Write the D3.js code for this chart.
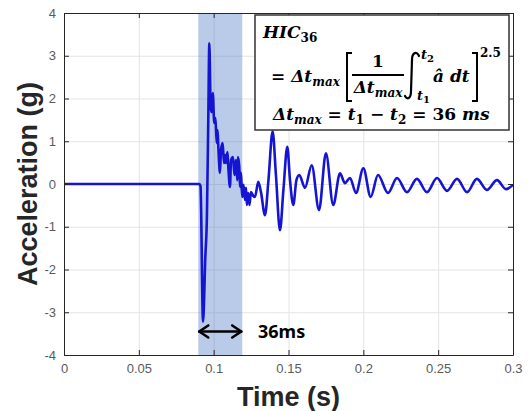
<!DOCTYPE html>
<html>
<head>
<meta charset="utf-8">
<script src="https://cdn.jsdelivr.net/npm/d3@7"></script>
<style>
  body { margin: 0; background: #fff; }
  svg { display: block; }
</style>
</head>
<body>
<div id="chart"></div>
<script>
var W = 529, H = 411;
var margin = { left: 64, right: 16, top: 13, bottom: 56 };

// axis ticks
var xTicks = [0, 0.05, 0.1, 0.15, 0.2, 0.25, 0.3];
var xTickLabels = ["0", "0.05", "0.1", "0.15", "0.2", "0.25", "0.3"];
var yTicks = [-4, -3, -2, -1, 0, 1, 2, 3, 4];
var yTickLabels = ["-4", "-3", "-2", "-1", "0", "1", "2", "3", "4"];

// acceleration trace
var timeS = [0, 0.03, 0.06, 0.0905,
  0.0912, 0.0929, 0.0944, 0.0955, 0.0964, 0.0971, 0.0980, 0.0986, 0.0994, 0.1004,
  0.1012, 0.1020, 0.1026, 0.1032, 0.1042, 0.1049, 0.1060, 0.1069, 0.1076, 0.1082,
  0.1092, 0.1099, 0.1109, 0.1116, 0.1129, 0.1139, 0.1149, 0.1158, 0.1162, 0.1171,
  0.1176, 0.1182, 0.1187, 0.1192, 0.1199, 0.1209, 0.1216, 0.1222, 0.1231, 0.1239,
  0.1249, 0.1265, 0.1276, 0.1298, 0.1316, 0.1343, 0.1366, 0.1394, 0.1416, 0.1443,
  0.1466, 0.1492, 0.1510, 0.1532, 0.1553, 0.1572, 0.1610, 0.1655, 0.1704, 0.1750,
  0.1799, 0.1844, 0.1877, 0.1911, 0.1951, 0.2000, 0.2049, 0.2098, 0.2165, 0.2225,
  0.2292, 0.2358, 0.2425, 0.2492, 0.2559, 0.2626, 0.2693, 0.2759, 0.2826, 0.2893,
  0.2953, 0.3000];
var accelG = [0, 0, 0, 0,
  -0.05, -3.22, -1.73, -0.73, 1.50, 3.29, 1.81, 1.68, 2.13, 1.43,
  1.54, 0.96, 1.26, 0.80, 0.26, 0.80, 0.96, 0.49, 0.68, 0.49,
  0.75, 0.33, -0.07, 0.56, 0.63, 0.21, 0.56, 0.09, 0.63, 0.40,
  -0.07, 0.26, -0.07, -0.30, -0.02, -0.37, -0.09, -0.49, -0.21, -0.49,
  -0.19, -0.28, -0.30, 0.05, -0.19, -0.73, 0.09, 1.23, 0.21, -1.08,
  -0.14, 0.87, 0.09, -0.49, 0.09, 0.21, -0.09, 0.44, -0.61, 0.72,
  -0.49, 0.25, 0.02, 0.14, -0.21, 0.37, -0.30, 0.21, -0.21, 0.14,
  -0.19, 0.12, -0.19, 0.14, -0.16, 0.12, -0.19, 0.12, -0.14, 0.09,
  -0.12, -0.02];

// HIC window (s)
var hicWindow = [0.0897, 0.1191];
var windowLabel = "36ms";

var svg = d3.select("#chart").append("svg")
  .attr("width", W).attr("height", H);

var pw = W - margin.left - margin.right;
var ph = H - margin.top - margin.bottom;

var x = d3.scaleLinear().domain([0, 0.3]).range([margin.left, margin.left + pw]);
var y = d3.scaleLinear().domain([-4, 4]).range([margin.top + ph, margin.top]);

// grid
svg.append("g")
  .attr("transform", "translate(0," + (margin.top + ph) + ")")
  .call(d3.axisBottom(x).tickValues(xTicks).tickSize(-ph).tickFormat(""))
  .call(function(g) { g.select(".domain").remove(); g.selectAll("line").attr("stroke", "#e3e3e3"); });
svg.append("g")
  .attr("transform", "translate(" + margin.left + ",0)")
  .call(d3.axisLeft(y).tickValues(yTicks).tickSize(-pw).tickFormat(""))
  .call(function(g) { g.select(".domain").remove(); g.selectAll("line").attr("stroke", "#e3e3e3"); });

// shaded window
svg.append("rect")
  .attr("x", x(hicWindow[0])).attr("y", margin.top)
  .attr("width", x(hicWindow[1]) - x(hicWindow[0])).attr("height", ph)
  .attr("fill", "#4472c4").attr("fill-opacity", 0.37);

svg.append("clipPath").attr("id", "clip")
  .append("rect").attr("x", margin.left).attr("y", margin.top).attr("width", pw).attr("height", ph);

var line = d3.line()
  .x(function(d, i) { return x(timeS[i]); })
  .y(function(d) { return y(d); })
  .curve(d3.curveMonotoneX);

svg.append("path")
  .datum(accelG)
  .attr("clip-path", "url(#clip)")
  .attr("d", line)
  .attr("fill", "none")
  .attr("stroke", "#1414d2")
  .attr("stroke-width", 2.6)
  .attr("stroke-linejoin", "round");

// axes (MATLAB box style, ticks inward)
var axColor = "#262626";
function styleAxis(g) {
  g.select(".domain").attr("stroke", axColor);
  g.selectAll(".tick line").attr("stroke", axColor);
  g.selectAll("text").attr("fill", "#5a5a5a")
    .style("font-family", "'Liberation Sans', Arial, sans-serif").style("font-size", "13px");
}
svg.append("g")
  .attr("transform", "translate(0," + (margin.top + ph) + ")")
  .call(d3.axisBottom(x).tickValues(xTicks).tickFormat(function(d, i) { return xTickLabels[i]; })
    .tickSizeInner(-5).tickSizeOuter(0).tickPadding(9))
  .call(styleAxis);
svg.append("g")
  .attr("transform", "translate(0," + margin.top + ")")
  .call(d3.axisTop(x).tickValues(xTicks).tickFormat("").tickSizeInner(-5).tickSizeOuter(0))
  .call(styleAxis);
svg.append("g")
  .attr("transform", "translate(" + margin.left + ",0)")
  .call(d3.axisLeft(y).tickValues(yTicks).tickFormat(function(d, i) { return yTickLabels[i]; })
    .tickSizeInner(-5).tickSizeOuter(0).tickPadding(8))
  .call(styleAxis);
svg.append("g")
  .attr("transform", "translate(" + (margin.left + pw) + ",0)")
  .call(d3.axisRight(y).tickValues(yTicks).tickFormat("").tickSizeInner(-5).tickSizeOuter(0))
  .call(styleAxis);

// axis titles
svg.append("text")
  .attr("x", margin.left + pw / 2).attr("y", 406)
  .attr("text-anchor", "middle")
  .style("font-family", "'Liberation Sans', Arial, sans-serif")
  .style("font-weight", "bold").style("font-size", "27px")
  .attr("fill", "#262626")
  .text("Time (s)");
svg.append("text")
  .attr("transform", "translate(37," + (margin.top + ph / 2) + ") rotate(-90)")
  .attr("text-anchor", "middle")
  .style("font-family", "'Liberation Sans', Arial, sans-serif")
  .style("font-weight", "bold").style("font-size", "27px")
  .attr("fill", "#262626")
  .text("Acceleration (g)");

// 36 ms arrow
var ay = y(-3.45);
var ax0 = x(hicWindow[0]), ax1 = x(hicWindow[1]);
var arr = svg.append("g").attr("stroke", "#000").attr("stroke-width", 2.6)
  .attr("fill", "none").attr("stroke-linecap", "round").attr("stroke-linejoin", "round");
arr.append("line").attr("x1", ax0 + 1).attr("x2", ax1 - 1).attr("y1", ay).attr("y2", ay);
arr.append("path").attr("d", "M" + (ax0 + 10) + "," + (ay - 6) + "L" + (ax0 + 1) + "," + ay + "L" + (ax0 + 10) + "," + (ay + 6));
arr.append("path").attr("d", "M" + (ax1 - 10) + "," + (ay - 6) + "L" + (ax1 - 1) + "," + ay + "L" + (ax1 - 10) + "," + (ay + 6));
svg.append("text")
  .attr("x", 258).attr("y", ay + 7)
  .style("font-family", "'Noto Sans', sans-serif").style("font-weight", "bold").style("font-size", "18px")
  .attr("fill", "#000")
  .text(windowLabel);

// formula box
var fb = svg.append("g");
fb.append("rect").attr("x", 255).attr("y", 15).attr("width", 254).attr("height", 115)
  .attr("fill", "#fff").attr("stroke", "#333").attr("stroke-width", 1.5);

var serif = "'DejaVu Serif', 'Liberation Serif', serif";
function mtext(px, py, anchor) {
  return fb.append("text").attr("x", px).attr("y", py).attr("text-anchor", anchor || "start")
    .style("font-family", serif).style("font-weight", "bold").attr("fill", "#000");
}
function span(t, s, size, dy, italic) {
  t.append("tspan").attr("dy", dy || 0).style("font-size", size + "px")
    .style("font-style", italic === false ? "normal" : "italic").text(s);
}

var t1 = mtext(263, 38);
span(t1, "HIC", 17); span(t1, "36", 12, 4, false);

var t2 = mtext(271, 82);
span(t2, "= ", 17, 0, false); span(t2, "Δt", 17); span(t2, "max", 12, 4);

fb.append("path").attr("d", "M352,53 L347,53 L347,101 L352,101")
  .attr("fill", "none").attr("stroke", "#000").attr("stroke-width", 2);
var num = mtext(378, 67, "middle");
span(num, "1", 17, 0, false);
fb.append("line").attr("x1", 352).attr("x2", 404).attr("y1", 75).attr("y2", 75)
  .attr("stroke", "#000").attr("stroke-width", 1.8);
var den = mtext(378, 93, "middle");
span(den, "Δt", 17); span(den, "max", 12, 4);

fb.append("path").attr("d", "M419,56 C417,51 412,52 412,60 L411,91 C411,99 407,100 405,96")
  .attr("fill", "none").attr("stroke", "#000").attr("stroke-width", 2.2).attr("stroke-linecap", "round");
var up = mtext(421, 59);
span(up, "t", 13); span(up, "2", 10, 3, false);
var lo = mtext(417, 100);
span(lo, "t", 13); span(lo, "1", 10, 3, false);

var ad = mtext(433, 82);
span(ad, "â dt", 17);

fb.append("path").attr("d", "M472,53 L477,53 L477,101 L472,101")
  .attr("fill", "none").attr("stroke", "#000").attr("stroke-width", 2);
var ex = mtext(480, 57);
span(ex, "2.5", 12, 0, false);

var t3 = mtext(273, 120);
span(t3, "Δt", 17); span(t3, "max", 12, 4);
span(t3, " = ", 17, -4, false); span(t3, "t", 17); span(t3, "1", 12, 4, false);
span(t3, " − ", 17, -4, false); span(t3, "t", 17); span(t3, "2", 12, 4, false);
span(t3, " = 36 ", 17, -4, false); span(t3, "ms", 17);
</script>
</body>
</html>
